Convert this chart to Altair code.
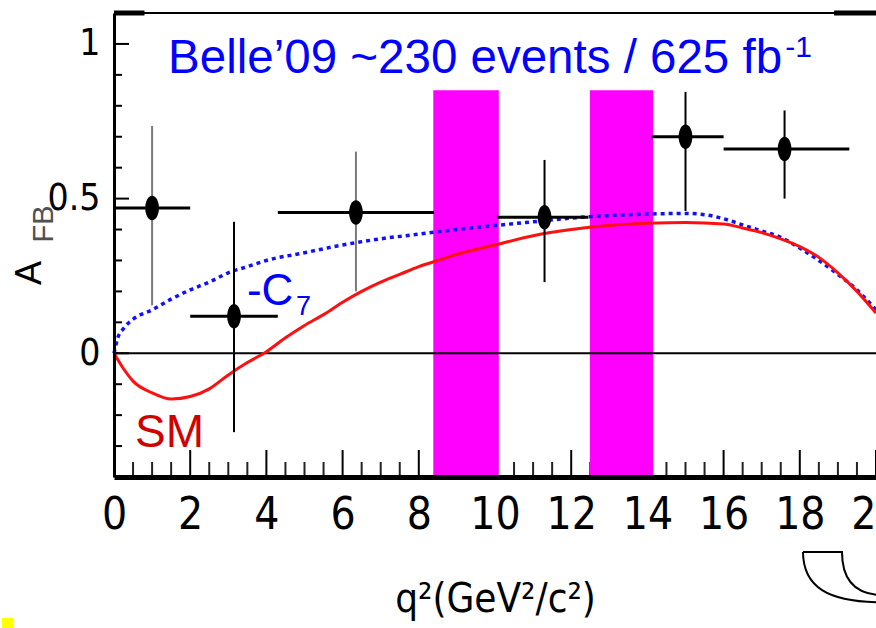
import altair as alt
import pandas as pd

# Belle 2009 forward-backward asymmetry in six q^2 bins
q2_center = [1.0, 3.15, 6.35, 11.3, 15.0, 17.6]
q2_low = [0.0, 2.0, 4.3, 10.05, 14.1, 16.0]
q2_high = [2.0, 4.3, 8.4, 12.45, 16.0, 19.3]
afb = [0.47, 0.12, 0.455, 0.44, 0.70, 0.66]
afb_low = [0.155, -0.255, 0.20, 0.23, 0.46, 0.50]
afb_high = [0.735, 0.425, 0.652, 0.625, 0.845, 0.785]
err_color = ["#7a7a7a", "black", "#7a7a7a", "black", "black", "black"]

# Standard Model prediction
sm_q2 = [0.0, 0.25, 0.5, 1.0, 1.5, 2.0, 2.5, 3.0, 3.5, 4.0, 4.5, 5.0, 5.5, 6.0,
         6.5, 7.0, 7.5, 8.0, 8.5, 9.0, 10.0, 11.0, 12.0, 13.0, 14.0, 15.0, 16.0,
         16.5, 17.0, 17.5, 18.0, 18.5, 19.0, 19.5, 20.0]
sm_afb = [0.0, -0.05, -0.09, -0.128, -0.148, -0.14, -0.115, -0.07, -0.03, 0.005,
          0.05, 0.09, 0.125, 0.165, 0.2, 0.23, 0.255, 0.28, 0.3, 0.32, 0.35, 0.38,
          0.4, 0.413, 0.42, 0.423, 0.418, 0.405, 0.39, 0.37, 0.345, 0.31, 0.26,
          0.2, 0.13]

# prediction with the sign of C7 flipped
c7_q2 = [0.0, 0.1, 0.25, 0.5, 1.0, 1.5, 2.0, 2.5, 3.0, 3.5, 4.0, 5.0, 6.0, 7.0,
         8.0, 9.0, 10.0, 11.0, 12.0, 13.0, 14.0, 15.0, 15.5, 16.0, 16.5, 17.0,
         17.5, 18.0, 18.5, 19.0, 19.5, 20.0]
c7_afb = [0.0, 0.05, 0.08, 0.11, 0.14, 0.175, 0.205, 0.23, 0.26, 0.28, 0.3, 0.325,
          0.35, 0.37, 0.385, 0.4, 0.413, 0.425, 0.437, 0.445, 0.45, 0.452, 0.448,
          0.435, 0.415, 0.395, 0.375, 0.34, 0.3, 0.255, 0.205, 0.14]

# charmonium veto windows
veto_low = [8.38, 12.49]
veto_high = [10.1, 14.15]

x_ticks = [0, 2, 4, 6, 8, 10, 12, 14, 16, 18, 20]
y_ticks = [0, 0.5, 1]

X_DOM = [0, 20]
Y_DOM = [-0.4, 1.1]
W, H = 762, 464

NARROW = "Liberation Sans Narrow, DejaVu Sans Condensed, sans-serif"
SANS = "Liberation Sans, Arial, sans-serif"
X_TITLE = "q²(GeV²/c²)"

xs = alt.Scale(domain=X_DOM, nice=False, zero=False)
ys = alt.Scale(domain=Y_DOM, nice=False, zero=False)

# one axis definition shared by every layer so the merged axes stay intact
X_AXIS = alt.Axis(values=x_ticks, ticks=False, grid=False, domainWidth=5,
                  domainColor="black", labelFont=NARROW, labelFontSize=44,
                  labelColor="black", labelPadding=16, labelFlush=False,
                  labelOverlap=False, titleFont=NARROW, titleFontSize=40,
                  titleFontWeight="normal", titleColor="black",
                  titlePadding=42, zindex=1)
Y_AXIS = alt.Axis(values=y_ticks, format="~g", ticks=False, grid=False,
                  domainWidth=3, domainColor="black", labelFont=NARROW,
                  labelFontSize=37, labelColor="black", labelPadding=14,
                  labelFlush=False, labelOverlap=False, zindex=1)

points = pd.DataFrame({"q2": q2_center, "lo": q2_low, "hi": q2_high,
                       "a": afb, "alo": afb_low, "ahi": afb_high, "c": err_color})
sm = pd.DataFrame({"q2": sm_q2, "a": sm_afb})
c7 = pd.DataFrame({"q2": c7_q2, "a": c7_afb})
veto = pd.DataFrame({"lo": veto_low, "hi": veto_high})

major_x = pd.DataFrame({"v": x_ticks})
minor_x = pd.DataFrame({"v": [k / 2 for k in range(41) if k % 4]})
major_y = pd.DataFrame({"v": y_ticks})
minor_y = pd.DataFrame({"v": [k / 10 for k in range(-3, 11) if k % 5]})


def xq(field):
    return alt.X(field, type="quantitative", scale=xs, axis=X_AXIS, title=X_TITLE)


def yq(field):
    return alt.Y(field, type="quantitative", scale=ys, axis=Y_AXIS, title=None)


# inward ticks on the x axis
x_major_layer = alt.Chart(major_x).mark_rule(color="black", strokeWidth=2).encode(
    x=xq("v"), y=alt.value(H), y2=alt.value(H - 27))
x_minor_layer = alt.Chart(minor_x).mark_rule(color="#222", strokeWidth=2).encode(
    x=xq("v"), y=alt.value(H), y2=alt.value(H - 15))

# inward ticks on the y axis
y_major_layer = alt.Chart(major_y).mark_rule(color="black", strokeWidth=2).encode(
    y=yq("v"), x=alt.value(0), x2=alt.value(15))
y_minor_layer = alt.Chart(minor_y).mark_rule(color="black", strokeWidth=2).encode(
    y=yq("v"), x=alt.value(0), x2=alt.value(8))

bands = alt.Chart(veto).mark_rect(color="#ff00ff", opacity=1).encode(
    x=xq("lo"), x2="hi", y=alt.datum(-0.4, scale=ys, axis=Y_AXIS, title=None),
    y2=alt.datum(0.85))

zero_line = alt.Chart(pd.DataFrame({"z": [0]})).mark_rule(
    color="black", strokeWidth=2).encode(y=yq("z"), x=alt.value(0), x2=alt.value(W))

top_frame = alt.Chart(pd.DataFrame({"t": [1.1]})).mark_rule(
    color="black", strokeWidth=2).encode(y=yq("t"), x=alt.value(0), x2=alt.value(W))
top_thick = alt.Chart(pd.DataFrame({"lo": [0.0, 18.9], "hi": [0.8, 20.0],
                                    "t": [1.1, 1.1]})).mark_rule(
    color="black", strokeWidth=5).encode(x=xq("lo"), x2="hi", y=yq("t"))

c7_line = alt.Chart(c7).mark_line(color="#1010ff", strokeWidth=3.5,
                                   strokeDash=[4, 4], interpolate="monotone").encode(
    x=xq("q2"), y=yq("a"))
sm_line = alt.Chart(sm).mark_line(color="#ff1010", strokeWidth=3,
                                  interpolate="monotone").encode(
    x=xq("q2"), y=yq("a"))

v_err = alt.Chart(points).mark_rule(strokeWidth=2).encode(
    x=xq("q2"), y=yq("alo"), y2="ahi", color=alt.Color("c:N", scale=None))
h_err = alt.Chart(points).mark_rule(color="black", strokeWidth=3).encode(
    x=xq("lo"), x2="hi", y=yq("a"))
dots = alt.Chart(points).mark_point(
    shape="M0,-1A0.56,1 0 1,1 0,1A0.56,1 0 1,1 0,-1Z", size=600,
    filled=True, color="black", opacity=1).encode(x=xq("q2"), y=yq("a"))


def label(xv, yv, text, size, color):
    return alt.Chart(pd.DataFrame({"x": [xv], "y": [yv], "t": [text]})).mark_text(
        font=SANS, fontSize=size, color=color, align="left",
        baseline="alphabetic").encode(x=xq("x"), y=yq("y"), text="t:N")


title_txt = label(1.42, 0.905, "Belle’09 ~230 events / 625 fb", 47.5, "#0000ff")
title_sup = label(17.62, 0.958, "-1", 30, "#0000ff")
c7_txt = label(3.49, 0.156, "-C", 44, "#0000ff")
c7_sub = label(4.78, 0.124, "7", 27, "#0000ff")
sm_txt = label(0.55, -0.303, "SM", 46, "#d00000")

# rotated y-axis title A_FB
a_txt = alt.Chart(pd.DataFrame({"t": ["A"]})).mark_text(
    font=SANS, fontSize=36, color="black", angle=270, align="center",
    baseline="middle").encode(x=alt.value(-84), y=alt.value(260), text="t:N")
fb_txt = alt.Chart(pd.DataFrame({"t": ["FB"]})).mark_text(
    font=SANS, fontSize=29, color="#505050", angle=270, align="center",
    baseline="middle").encode(x=alt.value(-70), y=alt.value(211), text="t:N")

# slide decorations: a small yellow marker and an outlined horn below the axis
corner = alt.Chart(pd.DataFrame({"t": [0]})).mark_rect(color="#ffff00").encode(
    x=alt.value(-112), x2=alt.value(-101), y=alt.value(605), y2=alt.value(615))
HORN = ("M-0.925,-0.625 L0.05,-0.625 C0.05,0.1 0.4,0.42 1.0,0.45 "
        "M-0.925,-0.625 C-0.92,0.25 -0.3,0.62 1.0,0.63")
horn = alt.Chart(pd.DataFrame({"t": [0]})).mark_point(
    shape=HORN, size=6400, filled=False, stroke="black", strokeWidth=2,
    opacity=1).encode(x=alt.value(726), y=alt.value(564))

chart = alt.layer(
    x_major_layer, x_minor_layer, y_major_layer, y_minor_layer,
    bands, zero_line, top_frame, top_thick,
    c7_line, sm_line, v_err, h_err, dots,
    title_txt, title_sup, c7_txt, c7_sub, sm_txt, a_txt, fb_txt, corner, horn,
).properties(
    width=W, height=H,
    padding={"left": 114, "top": 13, "right": 0, "bottom": 151},
    autosize=alt.AutoSizeParams(type="none"),
    background="white",
).configure_view(stroke=None)

chart.save("out.html", embed_options={"renderer": "svg", "actions": False})
